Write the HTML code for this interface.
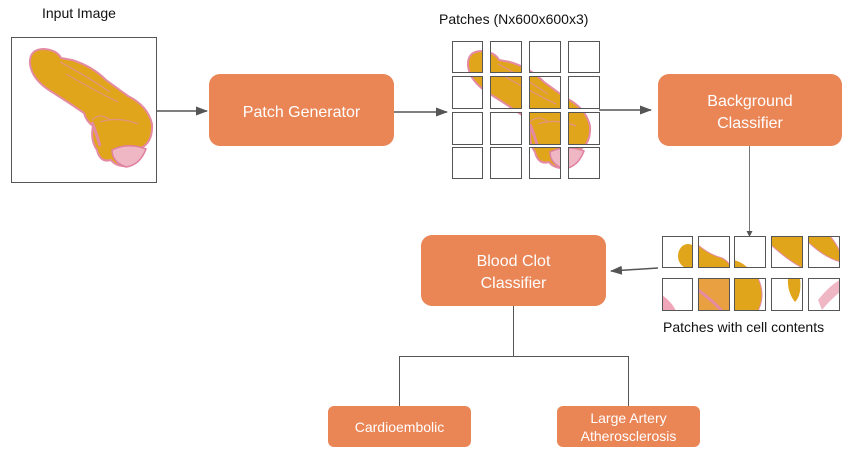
<!DOCTYPE html>
<html><head><meta charset="utf-8"><style>
html,body{margin:0;padding:0;background:#fff;width:852px;height:457px;overflow:hidden}
svg{display:block}
text{font-family:"Liberation Sans",Arial,sans-serif}
</style></head><body>
<svg width="852" height="457" viewBox="0 0 852 457" xmlns="http://www.w3.org/2000/svg">
<defs>
<marker id="ah" markerWidth="12" markerHeight="12" refX="11" refY="6" orient="auto" markerUnits="userSpaceOnUse">
<path d="M0,1.5 L12,6 L0,10.5 Z" fill="#555"/></marker>
<marker id="ah2" markerWidth="6" markerHeight="6" refX="5" refY="3" orient="auto" markerUnits="userSpaceOnUse">
<path d="M0,0 L6,3 L0,6 Z" fill="#555"/></marker>
<g id="blob">
<path d="M30,64 Q29,49 44,49 Q57,50 61,58 L72,60 Q92,66 106,80 L128,96 Q148,106 152,124 Q153,142 141,148 Q143,160 129,166 Q116,167 111,160 Q100,163 97,150 Q90,140 93,126 Q86,121 84,113 Q68,102 52,92 Q32,80 30,64 Z" fill="#e0a51a" stroke="#e58aa3" stroke-width="2"/>
<path d="M112,150 Q128,142 146,149 Q140,165 126,167 Q112,162 112,150 Z" fill="#efb7c4" stroke="#e07fa0" stroke-width="1.5"/>
<path d="M60,62 Q85,75 110,92 M66,74 Q90,88 118,102 M100,122 Q118,116 138,124 M92,120 Q100,112 110,120" fill="none" stroke="#e5957a" stroke-width="1.3"/>
<path d="M92,122 Q96,132 100,146" fill="none" stroke="#e58aa3" stroke-width="3"/>
</g>
<clipPath id="grid">
<rect x="452" y="41" width="30" height="31"/><rect x="490" y="41" width="31" height="31"/><rect x="529" y="41" width="31" height="31"/><rect x="568" y="41" width="31" height="31"/>
<rect x="452" y="76" width="30" height="32"/><rect x="490" y="76" width="31" height="32"/><rect x="529" y="76" width="31" height="32"/><rect x="568" y="76" width="31" height="32"/>
<rect x="452" y="112" width="30" height="32"/><rect x="490" y="112" width="31" height="32"/><rect x="529" y="112" width="31" height="32"/><rect x="568" y="112" width="31" height="32"/>
<rect x="452" y="147" width="30" height="31"/><rect x="490" y="147" width="31" height="31"/><rect x="529" y="147" width="31" height="31"/><rect x="568" y="147" width="31" height="31"/>
</clipPath>
<clipPath id="c1"><rect x="662" y="236" width="30" height="31"/></clipPath>
<clipPath id="c2"><rect x="698" y="236" width="31" height="31"/></clipPath>
<clipPath id="c3"><rect x="734" y="236" width="31" height="31"/></clipPath>
<clipPath id="c4"><rect x="771" y="236" width="31" height="31"/></clipPath>
<clipPath id="c5"><rect x="808" y="236" width="32" height="31"/></clipPath>
<clipPath id="d1"><rect x="662" y="278" width="30" height="32"/></clipPath>
<clipPath id="d2"><rect x="698" y="278" width="31" height="32"/></clipPath>
<clipPath id="d3"><rect x="734" y="278" width="31" height="32"/></clipPath>
<clipPath id="d4"><rect x="771" y="278" width="31" height="32"/></clipPath>
<clipPath id="d5"><rect x="808" y="278" width="32" height="32"/></clipPath>
</defs>

<text x="42" y="18" font-size="14" fill="#111">Input Image</text>
<rect x="11.5" y="37.5" width="145" height="145" fill="#fff" stroke="#555" stroke-width="1"/>
<use href="#blob"/>

<line x1="157" y1="111" x2="207" y2="111" stroke="#555" stroke-width="1.5" marker-end="url(#ah)"/>
<rect x="209" y="74" width="185" height="72" rx="11" fill="#ea8556"/>
<text x="301.5" y="117" font-size="16" fill="#fff" text-anchor="middle">Patch Generator</text>
<line x1="394" y1="112" x2="447" y2="112" stroke="#555" stroke-width="1.5" marker-end="url(#ah)"/>

<text x="439" y="24" font-size="14" fill="#111">Patches (Nx600x600x3)</text>
<g clip-path="url(#grid)"><use href="#blob" transform="translate(438,2)"/></g>
<g fill="none" stroke="#555" stroke-width="1">
<rect x="452.5" y="41.5" width="30" height="31"/><rect x="490.5" y="41.5" width="31" height="31"/><rect x="529.5" y="41.5" width="31" height="31"/><rect x="568.5" y="41.5" width="31" height="31"/>
<rect x="452.5" y="76.5" width="30" height="32"/><rect x="490.5" y="76.5" width="31" height="32"/><rect x="529.5" y="76.5" width="31" height="32"/><rect x="568.5" y="76.5" width="31" height="32"/>
<rect x="452.5" y="112.5" width="30" height="32"/><rect x="490.5" y="112.5" width="31" height="32"/><rect x="529.5" y="112.5" width="31" height="32"/><rect x="568.5" y="112.5" width="31" height="32"/>
<rect x="452.5" y="147.5" width="30" height="31"/><rect x="490.5" y="147.5" width="31" height="31"/><rect x="529.5" y="147.5" width="31" height="31"/><rect x="568.5" y="147.5" width="31" height="31"/>
</g>
<line x1="599" y1="110" x2="651" y2="110" stroke="#555" stroke-width="1.5" marker-end="url(#ah)"/>

<rect x="658" y="74" width="184" height="72" rx="11" fill="#ea8556"/>
<text x="750" y="106" font-size="16" fill="#fff" text-anchor="middle">Background</text>
<text x="750" y="128" font-size="16" fill="#fff" text-anchor="middle">Classifier</text>
<line x1="749.5" y1="146" x2="749.5" y2="236" stroke="#777" stroke-width="1" marker-end="url(#ah2)"/>

<g clip-path="url(#c1)"><ellipse cx="688" cy="256" rx="10" ry="12" fill="#e0a51a"/></g>
<g clip-path="url(#c2)"><path d="M698,245 Q710,255 722,258 Q730,262 730,268 L698,268 Z" fill="#e0a51a" stroke="#e58aa3"/></g>
<g clip-path="url(#c3)"><path d="M734,260 Q742,262 748,268 L734,268 Z" fill="#e0a51a"/></g>
<g clip-path="url(#c4)"><path d="M771,236 L803,236 L803,268 Q790,262 771,245 Z" fill="#e0a51a" stroke="#e58aa3"/></g>
<g clip-path="url(#c5)"><path d="M808,236 L830,236 Q842,250 841,262 Q825,258 808,242 Z" fill="#e0a51a" stroke="#e58aa3"/></g>
<g clip-path="url(#d1)"><path d="M662,295 Q672,302 676,311 L662,311 Z" fill="#efa6b8"/></g>
<g clip-path="url(#d2)"><rect x="698" y="278" width="31" height="32" fill="#e8a040"/><path d="M698,290 Q712,300 722,311" stroke="#e58aa3" stroke-width="3" fill="none"/></g>
<g clip-path="url(#d3)"><path d="M734,278 L758,278 Q766,295 758,311 L734,311 Z" fill="#e0a51a" stroke="#e58aa3"/></g>
<g clip-path="url(#d4)"><path d="M788,278 L800,278 Q802,295 795,302 Q787,292 788,278 Z" fill="#e0a51a"/></g>
<g clip-path="url(#d5)"><path d="M818,300 Q830,285 840,280 L840,292 Q830,300 822,310 Z" fill="#efb7c4"/></g>
<g fill="none" stroke="#555" stroke-width="1">
<rect x="662.5" y="236.5" width="30" height="31"/><rect x="698.5" y="236.5" width="31" height="31"/><rect x="734.5" y="236.5" width="31" height="31"/><rect x="771.5" y="236.5" width="31" height="31"/><rect x="808.5" y="236.5" width="31" height="31"/>
<rect x="662.5" y="278.5" width="30" height="32"/><rect x="698.5" y="278.5" width="31" height="32"/><rect x="734.5" y="278.5" width="31" height="32"/><rect x="771.5" y="278.5" width="31" height="32"/><rect x="808.5" y="278.5" width="31" height="32"/>
</g>
<text x="663" y="332" font-size="14" fill="#111">Patches with cell contents</text>

<line x1="658" y1="268" x2="611" y2="271" stroke="#555" stroke-width="1.5" marker-end="url(#ah)"/>
<rect x="421" y="235" width="185" height="71" rx="11" fill="#ea8556"/>
<text x="513.5" y="266" font-size="16" fill="#fff" text-anchor="middle">Blood Clot</text>
<text x="513.5" y="288" font-size="16" fill="#fff" text-anchor="middle">Classifier</text>

<path d="M513.5,306 V356.5 M399.5,406 V356.5 H628.5 V406" fill="none" stroke="#555" stroke-width="1"/>
<rect x="328" y="406" width="143" height="41" rx="6" fill="#ea8556"/>
<text x="399.5" y="432" font-size="14" fill="#fff" text-anchor="middle">Cardioembolic</text>
<rect x="557" y="406" width="143" height="41" rx="6" fill="#ea8556"/>
<text x="628.5" y="423" font-size="14" fill="#fff" text-anchor="middle">Large Artery</text>
<text x="628.5" y="441" font-size="14" fill="#fff" text-anchor="middle">Atherosclerosis</text>
</svg>
</body></html>
